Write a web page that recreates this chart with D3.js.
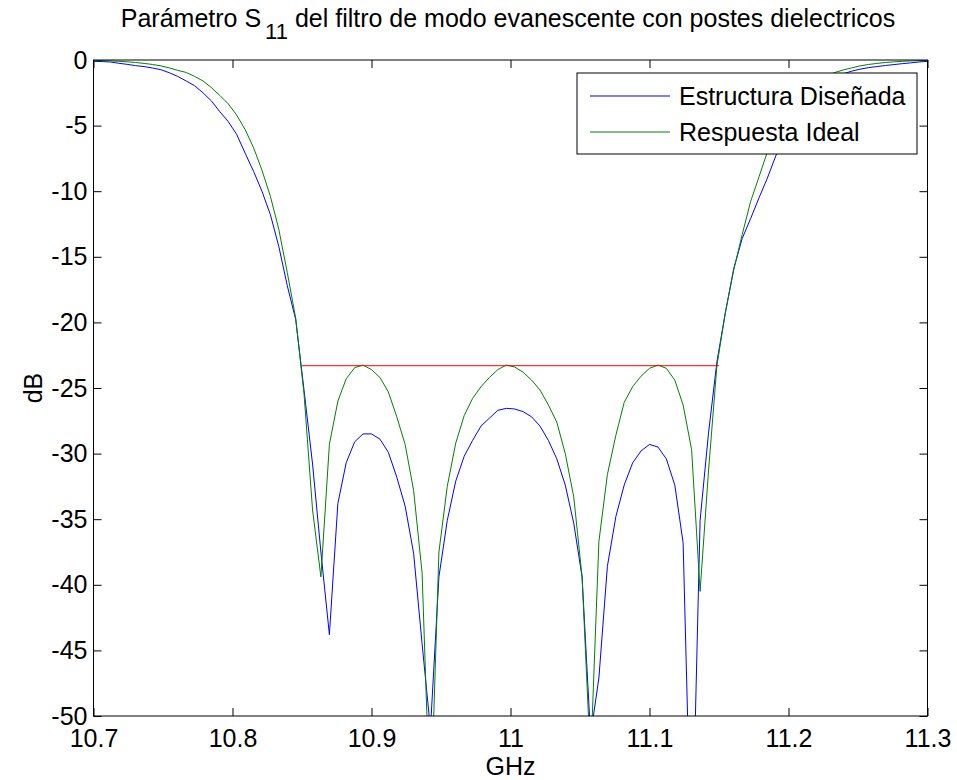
<!DOCTYPE html>
<html>
<head>
<meta charset="utf-8">
<script src="https://cdn.jsdelivr.net/npm/d3@7"></script>
<style>
  body { margin: 0; background: #fff; }
  text { font-family: "Liberation Sans", Arial, sans-serif; }
</style>
</head>
<body>
<svg width="957" height="780"></svg>
<script>
// Barrido de frecuencia (GHz)
const freq = [
  10.7000, 10.7061, 10.7121, 10.7182, 10.7242, 10.7303, 10.7364, 10.7424, 10.7485, 10.7545,
  10.7606, 10.7667, 10.7727, 10.7788, 10.7848, 10.7909, 10.7970, 10.8030, 10.8091, 10.8152,
  10.8212, 10.8273, 10.8333, 10.8394, 10.8455, 10.8515, 10.8576, 10.8636, 10.8697, 10.8758,
  10.8818, 10.8879, 10.8939, 10.9000, 10.9061, 10.9121, 10.9182, 10.9242, 10.9303, 10.9364,
  10.9424, 10.9485, 10.9545, 10.9606, 10.9667, 10.9727, 10.9788, 10.9848, 10.9909, 10.9970,
  11.0030, 11.0091, 11.0152, 11.0212, 11.0273, 11.0333, 11.0394, 11.0455, 11.0515, 11.0576,
  11.0636, 11.0697, 11.0758, 11.0818, 11.0879, 11.0939, 11.1000, 11.1061, 11.1121, 11.1182,
  11.1242, 11.1303, 11.1364, 11.1424, 11.1485, 11.1545, 11.1606, 11.1667, 11.1727, 11.1788,
  11.1848, 11.1909, 11.1970, 11.2030, 11.2091, 11.2152, 11.2212, 11.2273, 11.2333, 11.2394,
  11.2455, 11.2515, 11.2576, 11.2636, 11.2697, 11.2758, 11.2818, 11.2879, 11.2939, 11.3000
];

// S11 de la estructura diseñada (dB)
const s11Disenada = [
  -0.10, -0.12, -0.15, -0.25, -0.33, -0.43, -0.50, -0.61, -0.74, -0.97,
  -1.25, -1.60, -1.96, -2.50, -3.12, -3.94, -4.70, -5.67, -7.10, -8.50,
  -10.0, -11.8, -14.2, -17.2, -19.8, -25.2, -30.8, -37.5, -43.8, -33.8,
  -30.7, -29.1, -28.5, -28.5, -28.9, -29.9, -31.8, -34.0, -37.6, -44.5,
  -51.0, -39.4, -35.1, -32.1, -30.2, -29.0, -27.9, -27.3, -26.7, -26.55,
  -26.6, -26.8, -27.2, -27.9, -29.0, -30.4, -32.4, -35.3, -39.4, -51.5,
  -47.1, -38.6, -34.8, -32.4, -30.7, -29.8, -29.3, -29.5, -30.4, -32.4,
  -36.8, -62.0, -35.1, -28.5, -23.0, -19.3, -15.9, -13.6, -12.1, -10.5,
  -9.0, -7.3, -5.9, -4.8, -3.9, -3.1, -2.4, -1.85, -1.4, -1.05,
  -0.85, -0.70, -0.58, -0.50, -0.42, -0.35, -0.28, -0.22, -0.15, -0.10
];

// S11 de la respuesta ideal (dB)
const s11Ideal = [
  -0.04, -0.05, -0.07, -0.10, -0.14, -0.19, -0.26, -0.34, -0.45, -0.60,
  -0.79, -0.95, -1.25, -1.60, -2.10, -2.70, -3.35, -4.20, -5.30, -6.70,
  -8.40, -10.4, -12.9, -16.2, -19.7, -25.5, -34.3, -39.4, -29.3, -26.0,
  -24.3, -23.45, -23.25, -23.6, -24.2, -25.3, -27.2, -29.3, -32.8, -39.1,
  -58.0, -37.5, -32.5, -29.2, -27.1, -25.8, -24.9, -24.2, -23.6, -23.25,
  -23.4, -23.8, -24.4, -25.15, -26.3, -27.6, -30.0, -33.3, -39.4, -53.5,
  -36.7, -31.6, -28.6, -26.1, -24.9, -24.1, -23.5, -23.25, -23.5, -24.4,
  -26.3, -29.7, -40.5, -31.4, -23.3, -19.3, -16.0, -13.3, -10.8, -8.9,
  -7.0, -5.5, -4.3, -3.4, -2.7, -2.1, -1.6, -1.25, -0.95, -0.76,
  -0.60, -0.45, -0.34, -0.26, -0.19, -0.14, -0.10, -0.07, -0.05, -0.04
];

// Nivel de rizado (linea roja)
const rizadoX = [10.85, 11.15];
const rizadoY = [-23.3, -23.3];

const xTicks = [10.7, 10.8, 10.9, 11, 11.1, 11.2, 11.3];
const yTicks = [0, -5, -10, -15, -20, -25, -30, -35, -40, -45, -50];

const leyenda = ['Estructura Diseñada', 'Respuesta Ideal'];
const colores = ['#0000ff', '#008000'];

const svg = d3.select('svg');
const mLeft = 93.5, mRight = 927.5, mTop = 60, mBottom = 716;
const fs = 25;

const x = d3.scaleLinear().domain([10.7, 11.3]).range([mLeft, mRight]);
const y = d3.scaleLinear().domain([-50, 0]).range([mBottom, mTop]);

svg.append('rect').attr('width', 957).attr('height', 780).attr('fill', '#fff');

svg.append('defs').append('clipPath').attr('id', 'caja')
  .append('rect')
  .attr('x', mLeft).attr('y', mTop)
  .attr('width', mRight - mLeft).attr('height', mBottom - mTop);

const fmt = d => String(d);

// Ejes (ticks hacia dentro, como MATLAB)
svg.append('g')
  .attr('transform', `translate(0,${mBottom})`)
  .call(d3.axisBottom(x).tickValues(xTicks).tickFormat(fmt).tickSizeInner(-8).tickSizeOuter(0).tickPadding(13))
  .call(g => g.select('.domain').remove())
  .call(g => g.selectAll('text').attr('font-size', fs).attr('fill', '#000').attr('font-family', null));

svg.append('g')
  .attr('transform', `translate(0,${mTop})`)
  .call(d3.axisTop(x).tickValues(xTicks).tickFormat('').tickSizeInner(-8).tickSizeOuter(0))
  .call(g => g.select('.domain').remove());

svg.append('g')
  .attr('transform', `translate(${mLeft},0)`)
  .call(d3.axisLeft(y).tickValues(yTicks).tickFormat(fmt).tickSizeInner(-8).tickSizeOuter(0).tickPadding(6))
  .call(g => g.select('.domain').remove())
  .call(g => g.selectAll('text').attr('font-size', fs).attr('fill', '#000').attr('font-family', null));

svg.append('g')
  .attr('transform', `translate(${mRight},0)`)
  .call(d3.axisRight(y).tickValues(yTicks).tickFormat('').tickSizeInner(-8).tickSizeOuter(0))
  .call(g => g.select('.domain').remove());

svg.selectAll('.tick line').attr('stroke', '#000');

// Curvas
const linea = d3.line().x(d => x(d[0])).y(d => y(d[1]));
const curvas = svg.append('g').attr('clip-path', 'url(#caja)');

curvas.append('path')
  .datum(d3.zip(freq, s11Disenada))
  .attr('fill', 'none').attr('stroke', colores[0]).attr('stroke-width', 1)
  .attr('d', linea);

curvas.append('path')
  .datum(d3.zip(freq, s11Ideal))
  .attr('fill', 'none').attr('stroke', colores[1]).attr('stroke-width', 1)
  .attr('d', linea);

curvas.append('path')
  .datum(d3.zip(rizadoX, rizadoY))
  .attr('fill', 'none').attr('stroke', '#ff0000').attr('stroke-width', 1)
  .attr('d', linea);

// Caja de los ejes
svg.append('rect')
  .attr('x', mLeft).attr('y', mTop)
  .attr('width', mRight - mLeft).attr('height', mBottom - mTop)
  .attr('fill', 'none').attr('stroke', '#000').attr('stroke-width', 1);

// Titulo con subindice
const titulo = svg.append('text')
  .attr('x', 508).attr('y', 27)
  .attr('text-anchor', 'middle').attr('font-size', 25);
titulo.append('tspan').text('Parámetro S');
titulo.append('tspan').attr('font-size', 22).attr('dx', 4).attr('dy', 12).text('11');
titulo.append('tspan').attr('dy', -12).text(' del filtro de modo evanescente con postes dielectricos');

svg.append('text')
  .attr('x', (mLeft + mRight) / 2).attr('y', 775)
  .attr('text-anchor', 'middle').attr('font-size', fs)
  .text('GHz');

svg.append('text')
  .attr('transform', `translate(42,${(mTop + mBottom) / 2}) rotate(-90)`)
  .attr('text-anchor', 'middle').attr('font-size', fs)
  .text('dB');

// Leyenda
const lx = 577, ly = 73, lw = 340, lh = 81;
const ley = svg.append('g');
ley.append('rect')
  .attr('x', lx).attr('y', ly).attr('width', lw).attr('height', lh)
  .attr('fill', '#fff').attr('stroke', '#000').attr('stroke-width', 1);

leyenda.forEach((t, i) => {
  const cy = ly + 23 + i * 36;
  ley.append('line')
    .attr('x1', lx + 13).attr('x2', lx + 93)
    .attr('y1', cy).attr('y2', cy)
    .attr('stroke', colores[i]).attr('stroke-width', 1);
  ley.append('text')
    .attr('x', lx + 102).attr('y', cy + 9)
    .attr('font-size', fs)
    .text(t);
});
</script>
</body>
</html>
